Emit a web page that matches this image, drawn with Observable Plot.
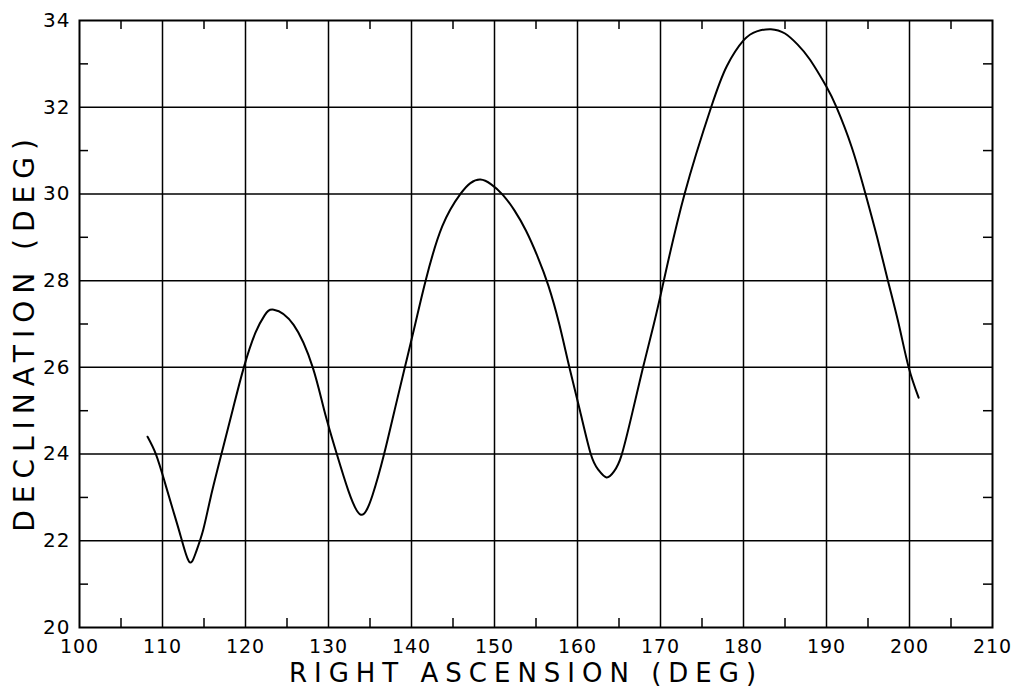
<!DOCTYPE html>
<html>
<head>
<meta charset="utf-8">
<script src="https://cdn.jsdelivr.net/npm/d3@7"></script>
<script src="https://cdn.jsdelivr.net/npm/@observablehq/plot@0.6"></script>
<style>
  html, body { margin: 0; padding: 0; background: white; }
</style>
</head>
<body>
<div id="chart"></div>
<script>
// Data
const rightAscension = [108.2, 109.2, 110.2, 111.2, 112.2, 113.2, 114.0, 114.9, 115.8, 117.1, 118.5, 119.8, 121.2, 122.3, 123.4, 125.8, 128.1, 129.5, 131.0, 132.4, 133.9, 135.3, 136.7, 137.95, 139.2, 140.45, 141.7, 143.7, 145.9, 147.1, 148.3, 149.6, 151.0, 152.4, 153.8, 155.2, 156.5, 157.8, 159.0, 160.3, 161.6, 162.5, 163.5, 164.4, 165.3, 166.6, 167.9, 169.2, 170.4, 172.9, 176.1, 178.0, 180.0, 181.6, 183.3, 185.0, 186.5, 188.0, 190.0, 191.2, 193.0, 194.7, 196.1, 197.4, 198.7, 199.9, 201.1];
const declination   = [24.4, 24.0, 23.4, 22.75, 22.1, 21.52, 21.72, 22.25, 23.0, 24.0, 25.05, 26.0, 26.8, 27.2, 27.33, 26.98, 26.0, 25.0, 24.0, 23.15, 22.6, 23.05, 24.0, 25.0, 26.0, 27.0, 28.0, 29.25, 30.0, 30.25, 30.33, 30.22, 29.98, 29.62, 29.15, 28.55, 27.88, 27.0, 26.02, 25.0, 24.0, 23.64, 23.46, 23.6, 23.97, 24.95, 26.0, 27.0, 28.0, 30.0, 32.0, 32.95, 33.54, 33.75, 33.8, 33.7, 33.45, 33.1, 32.47, 32.0, 31.1, 30.0, 29.0, 28.0, 27.0, 26.0, 25.3];

const xTickLabels = [100, 110, 120, 130, 140, 150, 160, 170, 180, 190, 200, 210];
const yTickLabels = [20, 22, 24, 26, 28, 30, 32, 34];
const xGrid = [110, 120, 130, 140, 150, 160, 170, 180, 190, 200];
const yGrid = [22, 24, 26, 28, 30, 32];
const xMinor = [105, 115, 125, 135, 145, 155, 165, 175, 185, 195, 205];
const yMinor = [21, 23, 25, 27, 29, 31, 33];
const xTitle = "RIGHT ASCENSION (DEG)";
const yTitle = "DECLINATION (DEG)";

const points = rightAscension.map((x, i) => ({ra: x, dec: declination[i]}));

const W = 1022, H = 689;
const mL = 79, mR = 30, mT = 20, mB = 62;
const plotW = W - mL - mR, plotH = H - mT - mB;
const tickLen = 9;

const chart = Plot.plot({
  width: W,
  height: H,
  marginLeft: mL,
  marginRight: mR,
  marginTop: mT,
  marginBottom: mB,
  x: {domain: [100, 210]},
  y: {domain: [20, 34]},
  style: {fontFamily: "DejaVu Sans", background: "white", color: "black"},
  marks: [
    Plot.ruleX(xGrid, {stroke: "black", strokeWidth: 1.5}),
    Plot.ruleY(yGrid, {stroke: "black", strokeWidth: 1.5}),
    Plot.ruleX(xMinor, {stroke: "black", strokeWidth: 1.5, insetTop: plotH - tickLen}),
    Plot.ruleX(xMinor, {stroke: "black", strokeWidth: 1.5, insetBottom: plotH - tickLen}),
    Plot.ruleY(yMinor, {stroke: "black", strokeWidth: 1.5, insetRight: plotW - tickLen}),
    Plot.ruleY(yMinor, {stroke: "black", strokeWidth: 1.5, insetLeft: plotW - tickLen}),
    Plot.frame({stroke: "black", strokeWidth: 2}),
    Plot.line(points, {x: "ra", y: "dec", curve: "natural", stroke: "black", strokeWidth: 2}),
    Plot.axisX(xTickLabels, {tickSize: 0, tickPadding: 12, fontSize: 19, label: null}),
    Plot.axisY(yTickLabels, {tickSize: 0, tickPadding: 9, fontSize: 20, label: null}),
    Plot.text([xTitle], {frameAnchor: "bottom", textAnchor: "middle", lineAnchor: "middle", dy: 46.5, dx: -10, fontSize: 26, fill: "black"}),
    Plot.text([yTitle], {frameAnchor: "left", textAnchor: "middle", lineAnchor: "middle", dx: -54, dy: 8, rotate: -90, fontSize: 28, fill: "black"})
  ]
});

d3.select(chart).selectAll("text")
  .filter(function() { return this.textContent === xTitle; })
  .attr("letter-spacing", "7px");
d3.select(chart).selectAll("text")
  .filter(function() { return this.textContent === yTitle; })
  .attr("letter-spacing", "7px");
d3.select(chart).selectAll("g[aria-label='x-axis tick label'] text, g[aria-label='y-axis tick label'] text")
  .attr("letter-spacing", "1px");

document.getElementById("chart").appendChild(chart);
</script>
</body>
</html>
